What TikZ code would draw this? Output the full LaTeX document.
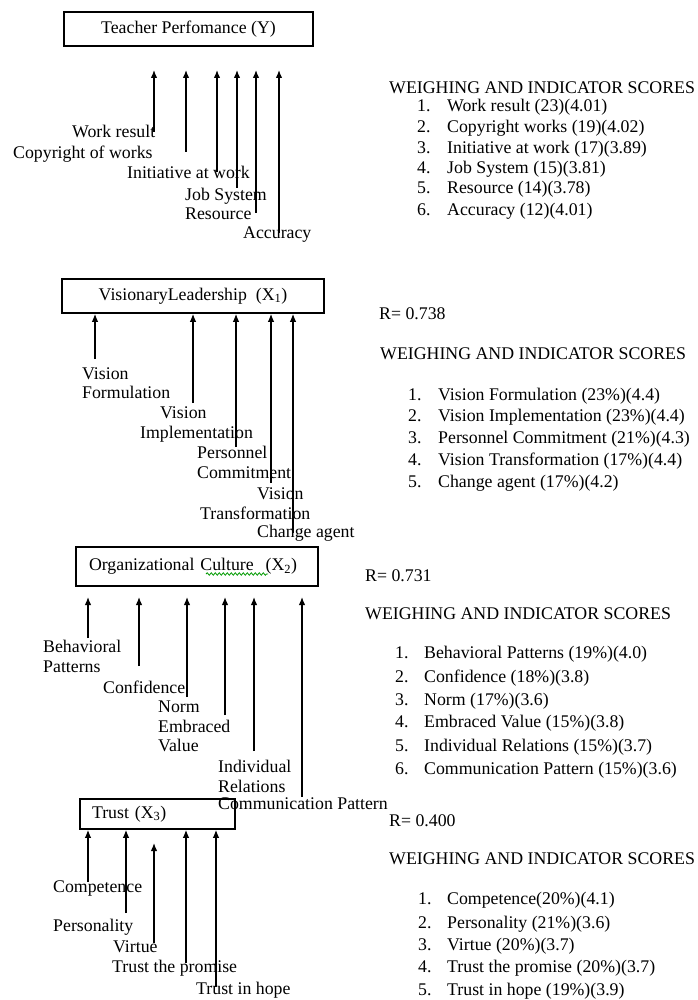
\documentclass[tikz,border=0pt]{standalone}
\usepackage{fontspec}
\setmainfont{Liberation Serif}
\usetikzlibrary{arrows.meta,decorations.pathmorphing}
\begin{document}
\begin{tikzpicture}[x=1pt,y=-1pt,
  font=\fontsize{17.8}{20}\selectfont,
  lbl/.style={anchor=west,inner sep=0pt,text height=12pt,text depth=4pt},
  varbox/.style={draw,line width=1.6pt,inner ysep=0pt,anchor=center},
  arr/.style={line width=1.3pt,-{Latex[length=8pt,width=6.5pt]}},
  squiggle/.style={draw=green!60!black,line width=0.8pt,decorate,decoration={snake,segment length=4pt,amplitude=1.2pt}}
]
\useasboundingbox (0,0) rectangle (697,1000);

% ---------- Teacher Performance ----------
\node[varbox,minimum width=249pt,minimum height=34pt] (tp) at (188.5,29) {Teacher Perfomance (Y)};
\node[lbl] (t1) at (72,134) {Work result};
\node[lbl] (t2) at (13,155) {Copyright of works};
\node[lbl] (t3) at (127,175) {Initiative at work};
\node[lbl] (t4) at (185,197) {Job System};
\node[lbl] (t5) at (185,216) {Resource};
\node[lbl] (t6) at (243,235) {Accuracy};
\foreach \n/\x/\y in {1/154/132,2/186/152,3/217/172,4/237/188,5/256/213,6/279/233}{
  \coordinate (ts\n) at (\x,\y);
  \coordinate (te\n) at (\x,70);
  \draw[arr] (ts\n) -- (te\n);
}
\node[lbl] (h1) at (389,90) {WEIGHING AND INDICATOR SCORES};
\foreach \n/\y/\t in {1/108/{Work result (23)(4.01)},2/129/{Copyright works (19)(4.02)},3/150/{Initiative at work (17)(3.89)},4/170/{Job System (15)(3.81)},5/190/{Resource (14)(3.78)},6/212/{Accuracy (12)(4.01)}}{
  \node[lbl] (an\n) at (417,\y) {\n.};
  \node[lbl] (at\n) at (447,\y) {\t};
}

% ---------- Visionary Leadership ----------
\node[varbox,minimum width=262pt,minimum height=34pt] (vl) at (193,296) {VisionaryLeadership~~(X\textsubscript{1})};
\node[lbl] (v1a) at (82,375) {Vision};
\node[lbl] (v1b) at (82,394) {Formulation};
\node[lbl] (v2a) at (160,414) {Vision};
\node[lbl] (v2b) at (140,434) {Implementation};
\node[lbl] (v3a) at (197,454) {Personnel};
\node[lbl] (v3b) at (197,474) {Commitment};
\node[lbl] (v4a) at (257,495) {Vision};
\node[lbl] (v4b) at (200,515) {Transformation};
\node[lbl] (v5) at (257,533) {Change agent};
\foreach \n/\x/\y in {1/95/359,2/193/403,3/236/447,4/271/483,5/293/533}{
  \coordinate (vs\n) at (\x,\y);
  \draw[arr] (vs\n) -- (vs\n |- vl.south);
}
\node[lbl] (r1) at (379,315) {R= 0.738};
\node[lbl] (h2) at (380,355) {WEIGHING AND INDICATOR SCORES};
\foreach \n/\y/\t in {1/396/{Vision Formulation (23\%)(4.4)},2/417/{Vision Implementation (23\%)(4.4)},3/439/{Personnel Commitment (21\%)(4.3)},4/461/{Vision Transformation (17\%)(4.4)},5/483/{Change agent (17\%)(4.2)}}{
  \node[lbl] (bn\n) at (408,\y) {\n.};
  \node[lbl] (bt\n) at (438,\y) {\t};
}

% ---------- Organizational Culture ----------
\node[varbox,minimum width=242pt,minimum height=39pt,text width=216pt,inner xsep=13pt,align=left] (oc) at (197,566.5) {Organizational Culture~~(X\textsubscript{2})};
\draw[squiggle] (206,574) -- (268,574);
\node[lbl] (o1a) at (43,648) {Behavioral};
\node[lbl] (o1b) at (43,668) {Patterns};
\node[lbl] (o2) at (103,689) {Confidence};
\node[lbl] (o3) at (158,708) {Norm};
\node[lbl] (o4a) at (158,728) {Embraced};
\node[lbl] (o4b) at (158,747) {Value};
\node[lbl] (o5a) at (218,768) {Individual};
\node[lbl] (o5b) at (218,788) {Relations};
\node[lbl] (o6) at (218,805) {Communication Pattern};
\foreach \n/\x/\y in {1/88/638,2/139/666,3/187/697,4/225/715,5/254/751,6/302/797}{
  \coordinate (os\n) at (\x,\y);
  \coordinate (oe\n) at (\x,597);
  \draw[arr] (os\n) -- (oe\n);
}
\node[lbl] (r2) at (365,577) {R= 0.731};
\node[lbl] (h3) at (365,615) {WEIGHING AND INDICATOR SCORES};
\foreach \n/\y/\t in {1/654/{Behavioral Patterns (19\%)(4.0)},2/678/{Confidence (18\%)(3.8)},3/701/{Norm (17\%)(3.6)},4/723/{Embraced Value (15\%)(3.8)},5/747/{Individual Relations (15\%)(3.7)},6/770/{Communication Pattern (15\%)(3.6)}}{
  \node[lbl] (cn\n) at (395,\y) {\n.};
  \node[lbl] (ct\n) at (424,\y) {\t};
}

% ---------- Trust ----------
\node[varbox,minimum width=155pt,minimum height=30pt,text width=131pt,inner xsep=12pt,align=left] (tr) at (157.5,814) {Trust (X\textsubscript{3})};
\node[lbl] (u1) at (53,888) {Competence};
\node[lbl] (u2) at (53,927) {Personality};
\node[lbl] (u3) at (113,948) {Virtue};
\node[lbl] (u4) at (112,968) {Trust the promise};
\node[lbl] (u5) at (196,990) {Trust in hope};
\foreach \n/\x/\y in {1/88/882,2/126/913,4/186/963,5/216/987}{
  \coordinate (us\n) at (\x,\y);
  \draw[arr] (us\n) -- (us\n |- tr.south);
}
\coordinate (us3) at (154,943);
\coordinate (ue3) at (154,843);
\draw[arr] (us3) -- (ue3);
\node[lbl] (r3) at (389,822) {R= 0.400};
\node[lbl] (h4) at (389,860) {WEIGHING AND INDICATOR SCORES};
\foreach \n/\y/\t in {1/900/{Competence(20\%)(4.1)},2/924/{Personality (21\%)(3.6)},3/946/{Virtue (20\%)(3.7)},4/968/{Trust the promise (20\%)(3.7)},5/991/{Trust in hope (19\%)(3.9)}}{
  \node[lbl] (dn\n) at (418,\y) {\n.};
  \node[lbl] (dt\n) at (447,\y) {\t};
}
\end{tikzpicture}
\end{document}
